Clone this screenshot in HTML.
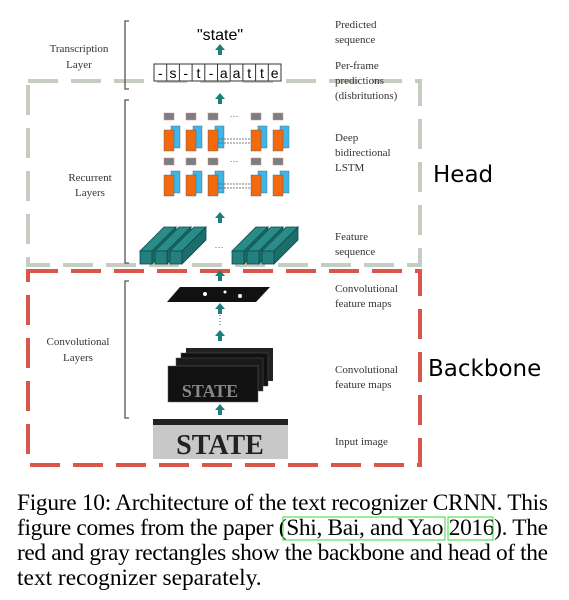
<!DOCTYPE html>
<html><head><style>
body{margin:0;background:#fff;width:569px;height:600px;overflow:hidden}
svg{display:block}
.s{font-family:"Liberation Serif",serif;font-size:11px;fill:#333}
.c{font-family:"Liberation Serif",serif;font-size:23.4px;fill:#000}
.h{font-family:"DejaVu Sans","Liberation Sans",sans-serif;font-size:23px;fill:#000}
</style></head><body>
<svg width="569" height="600" xmlns="http://www.w3.org/2000/svg">
<defs>
<g id="ar"><polygon points="0,-6 5,0 2,0 2,5 -2,5 -2,0 -5,0" fill="#1e7f7a"/></g>
<g id="col">
 <rect x="-5" y="0" width="10" height="7" fill="#7a7f86" stroke="#d88" stroke-width="0.5"/>
 <rect x="2" y="13" width="9" height="22" fill="#3fb6ea" stroke="#555" stroke-width="0.4"/>
 <rect x="-5" y="17" width="10" height="21" fill="#f26a10" stroke="#555" stroke-width="0.4"/>
 <rect x="-5" y="45" width="10" height="7" fill="#7a7f86" stroke="#d88" stroke-width="0.5"/>
 <rect x="2" y="58" width="9" height="22" fill="#3fb6ea" stroke="#555" stroke-width="0.4"/>
 <rect x="-5" y="62" width="10" height="21" fill="#f26a10" stroke="#555" stroke-width="0.4"/>
</g>
<g id="bar"><polygon points="0,24 24,0 36,0 12,24" fill="#2a8c89" stroke="#0d4a48" stroke-width="0.8"/><polygon points="12,24 36,0 36,13 12,37" fill="#1b6e6b" stroke="#0d4a48" stroke-width="0.8"/><rect x="0" y="24" width="12" height="13" fill="#23807d" stroke="#0d4a48" stroke-width="0.8"/></g>
</defs>
<path d="M28,81 H420 V265 H28 Z" fill="none" stroke="#c4cdbf" stroke-width="4" stroke-dasharray="30,13"/>
<path d="M28,271 H420 V465 H28 Z" fill="none" stroke="#d9574a" stroke-width="4" stroke-dasharray="30,13"/>
<g fill="none" stroke="#555" stroke-width="1.3">
<path d="M129,21 H125 V89 H129"/><path d="M129,100 H125 V263 H129"/><path d="M129,281 H125 V418 H129"/>
</g>
<g class="s" text-anchor="middle">
<text x="79" y="52">Transcription</text><text x="79" y="68">Layer</text>
<text x="90" y="181">Recurrent</text><text x="90" y="196">Layers</text>
<text x="78" y="345">Convolutional</text><text x="78" y="361">Layers</text>
</g>
<g class="s">
<text x="335" y="28">Predicted</text><text x="335" y="43">sequence</text>
<text x="335" y="69">Per-frame</text><text x="335" y="84">predictions</text><text x="335" y="99">(disbritutions)</text>
<text x="335" y="141">Deep</text><text x="335" y="156">bidirectional</text><text x="335" y="171">LSTM</text>
<text x="335" y="240">Feature</text><text x="335" y="255">sequence</text>
<text x="335" y="292">Convolutional</text><text x="335" y="307">feature maps</text>
<text x="335" y="373">Convolutional</text><text x="335" y="388">feature maps</text>
<text x="335" y="445">Input image</text>
</g>
<text class="h" x="433" y="182">Head</text>
<text class="h" x="428" y="376">Backbone</text>
<text x="220" y="40" text-anchor="middle" style="font-family:'Liberation Sans',sans-serif;font-size:16px">"state"</text>
<use href="#ar" x="220" y="50"/>
<g style="font-family:'Liberation Sans',sans-serif;font-size:14px" text-anchor="middle">
<rect x="154" y="64" width="127" height="17" fill="#fff" stroke="#333" stroke-width="1"/>
<g stroke="#333" stroke-width="1"><line x1="166.7" y1="64" x2="166.7" y2="81"/><line x1="179.4" y1="64" x2="179.4" y2="81"/><line x1="192.1" y1="64" x2="192.1" y2="81"/><line x1="204.8" y1="64" x2="204.8" y2="81"/><line x1="217.5" y1="64" x2="217.5" y2="81"/><line x1="230.2" y1="64" x2="230.2" y2="81"/><line x1="242.9" y1="64" x2="242.9" y2="81"/><line x1="255.6" y1="64" x2="255.6" y2="81"/><line x1="268.3" y1="64" x2="268.3" y2="81"/></g>
<text x="160.3" y="78">-</text><text x="173" y="78">s</text><text x="185.7" y="78">-</text><text x="198.4" y="78">t</text><text x="211.1" y="78">-</text><text x="223.8" y="78">a</text><text x="236.5" y="78">a</text><text x="249.2" y="78">t</text><text x="261.9" y="78">t</text><text x="274.6" y="78">e</text>
</g>
<use href="#ar" x="220" y="99"/>
<use href="#col" x="169" y="113"/><use href="#col" x="191" y="113"/><use href="#col" x="213" y="113"/>
<use href="#col" x="256" y="113"/><use href="#col" x="278" y="113"/>
<g fill="#555" font-size="9" font-family="Liberation Sans" text-anchor="middle"><text x="234" y="119">···</text><text x="234" y="164">···</text></g>
<g stroke="#555" stroke-width="0.8" stroke-dasharray="2,1"><line x1="218" y1="139" x2="251" y2="139"/><line x1="218" y1="143" x2="251" y2="143"/><line x1="218" y1="184" x2="251" y2="184"/><line x1="218" y1="188" x2="251" y2="188"/></g>
<use href="#ar" x="220" y="218"/>
<use href="#bar" x="140" y="227"/><use href="#bar" x="155" y="227"/><use href="#bar" x="170" y="227"/>
<text x="219" y="250" font-size="9" fill="#555" font-family="Liberation Sans" text-anchor="middle">···</text>
<use href="#bar" x="232" y="227"/><use href="#bar" x="247" y="227"/><use href="#bar" x="262" y="227"/>
<use href="#ar" x="220" y="276"/>
<polygon points="180,287 270,287 256,302 167,302" fill="#111"/>
<g fill="#fff"><circle cx="205" cy="294" r="2"/><circle cx="225" cy="292" r="1.5"/><circle cx="240" cy="296" r="2"/></g>
<use href="#ar" x="220" y="309"/>
<line x1="220" y1="315" x2="220" y2="327" stroke="#555" stroke-dasharray="1,2"/>
<use href="#ar" x="220" y="336"/>
<rect x="186" y="348" width="87" height="33" fill="#222"/>
<rect x="181" y="353" width="87" height="33" fill="#111" stroke="#555" stroke-width="0.5"/>
<rect x="176" y="358" width="87" height="33" fill="#1a1a1a" stroke="#555" stroke-width="0.5"/>
<rect x="168" y="366" width="90" height="36" fill="#111" stroke="#666" stroke-width="0.5"/>
<text x="210" y="397" text-anchor="middle" style="font-family:'Liberation Serif',serif;font-size:18px;font-weight:bold;fill:#888">STATE</text>
<use href="#ar" x="220" y="410"/>
<rect x="153" y="419" width="135" height="40" fill="#c8c8c8"/>
<rect x="153" y="419" width="135" height="6" fill="#222"/>
<text x="220" y="454" text-anchor="middle" style="font-family:'Liberation Serif',serif;font-size:28px;font-weight:bold;fill:#222">STATE</text>
<text class="c" x="17" y="510" textLength="531" lengthAdjust="spacing">Figure 10: Architecture of the text recognizer CRNN. This</text>
<text class="c" x="17" y="535" textLength="531" lengthAdjust="spacing">figure comes from the paper (Shi, Bai, and Yao 2016). The</text>
<rect x="283" y="517" width="162" height="23" fill="none" stroke="#3d3" stroke-width="1"/>
<rect x="448" y="517" width="45" height="23" fill="none" stroke="#3d3" stroke-width="1"/>
<text class="c" x="17" y="560" textLength="531" lengthAdjust="spacing">red and gray rectangles show the backbone and head of the</text>
<text class="c" x="17" y="585">text recognizer separately.</text>
</svg>
</body></html>
